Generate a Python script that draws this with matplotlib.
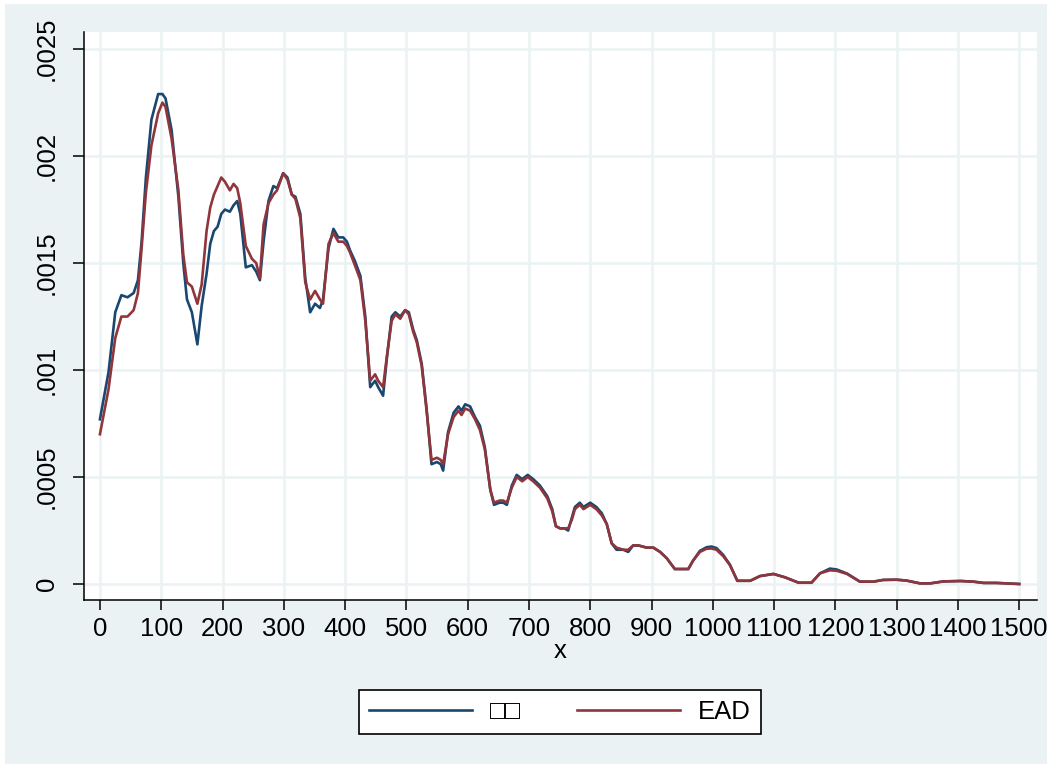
import matplotlib
matplotlib.use("Agg")
import matplotlib.pyplot as plt
from matplotlib.patches import Rectangle

plt.rcParams["font.family"] = ["Liberation Sans", "DejaVu Sans"]

# kernel density style curves
x = [0, 14, 25, 35, 45, 55, 62, 68, 75, 84, 95, 102, 107, 117, 128, 136, 142,
     150, 159, 166, 174, 180, 186, 192, 198, 204, 212, 218, 224, 229, 238, 248,
     255, 261, 267, 275, 283, 289, 299, 306, 313, 319, 327, 335, 343, 351, 359,
     364, 373, 381, 389, 397, 403, 408, 416, 425, 433, 441, 449, 454, 462, 468,
     476, 482, 490, 498, 504, 511, 517, 525, 533, 541, 550, 556, 560, 568, 577,
     585, 590, 596, 604, 612, 620, 628, 637, 643, 652, 658, 664, 672, 680, 689,
     698, 707, 718, 730, 738, 744, 751, 758, 764, 770, 775, 783, 789, 800, 810,
     819, 827, 835, 843, 854, 862, 870, 879, 892, 903, 914, 925, 938, 950, 960,
     968, 979, 990, 998, 1006, 1017, 1028, 1040, 1061, 1077, 1099, 1118, 1140,
     1161, 1175, 1191, 1202, 1219, 1240, 1262, 1278, 1300, 1316, 1338, 1355,
     1376, 1404, 1425, 1442, 1463, 1500]

original = [0.00077, 0.00099, 0.00127, 0.00135, 0.00134, 0.00136, 0.00142,
            0.00160, 0.00190, 0.00217, 0.00229, 0.00229, 0.00227, 0.00212,
            0.00181, 0.00150, 0.00133, 0.00127, 0.00112, 0.00130, 0.00145,
            0.00159, 0.00165, 0.00167, 0.00173, 0.00175, 0.00174, 0.00177,
            0.00179, 0.00173, 0.00148, 0.00149, 0.00146, 0.00142, 0.00160,
            0.00179, 0.00186, 0.00185, 0.00192, 0.00190, 0.00182, 0.00181,
            0.00173, 0.00143, 0.00127, 0.00131, 0.00129, 0.00133, 0.00157,
            0.00166, 0.00162, 0.00162, 0.00160, 0.00156, 0.00151, 0.00144,
            0.00125, 0.00092, 0.00095, 0.00092, 0.00088, 0.00105, 0.00125,
            0.00127, 0.00125, 0.00128, 0.00127, 0.00119, 0.00114, 0.00103,
            0.00082, 0.00056, 0.00057, 0.00056, 0.00053, 0.00071, 0.00080,
            0.00083, 0.00081, 0.00084, 0.00083, 0.00078, 0.00074, 0.00064,
            0.00044, 0.00037, 0.00038, 0.00038, 0.00037, 0.00046, 0.00051,
            0.00049, 0.00051, 0.00049, 0.00046, 0.00041, 0.00035, 0.00027,
            0.00026, 0.00026, 0.00025, 0.00031, 0.00036, 0.00038, 0.00036,
            0.00038, 0.00036, 0.00033, 0.00028, 0.00019, 0.00016, 0.00016,
            0.00015, 0.00018, 0.00018, 0.00017, 0.00017, 0.00015, 0.00012,
            0.00007, 0.00007, 0.00007, 0.00011, 0.000155, 0.000172, 0.000175,
            0.000168, 0.000136, 0.00009, 0.000015, 0.000015, 0.000037,
            0.000047, 0.000031, 0.000006, 0.000006, 0.00005, 0.000072,
            0.000068, 0.000049, 0.000011, 0.000011, 0.000019, 0.00002,
            0.000016, 0.000003, 0.000003, 0.000012, 0.000014, 0.000011,
            0.000005, 0.000005, 0.0]

ead = [0.00070, 0.00091, 0.00115, 0.00125, 0.00125, 0.00128, 0.00136,
       0.00157, 0.00183, 0.00205, 0.00220, 0.00225, 0.00223, 0.00208,
       0.00184, 0.00154, 0.00141, 0.00139, 0.00131, 0.00140, 0.00165,
       0.00176, 0.00182, 0.00186, 0.00190, 0.00188, 0.00184, 0.00187,
       0.00185, 0.00178, 0.00158, 0.00152, 0.00150, 0.00143, 0.00168,
       0.00178, 0.00182, 0.00184, 0.00192, 0.00189, 0.00182, 0.00180,
       0.00171, 0.00141, 0.00133, 0.00137, 0.00133, 0.00131, 0.00159,
       0.00164, 0.00160, 0.00160, 0.00158, 0.00155, 0.00149, 0.00142,
       0.00123, 0.00095, 0.00098, 0.00095, 0.00092, 0.00106, 0.00123,
       0.00126, 0.00124, 0.00128, 0.00126, 0.00118, 0.00113, 0.00102,
       0.00081, 0.00058, 0.00059, 0.00058, 0.00056, 0.00070, 0.00078,
       0.00081, 0.00079, 0.00082, 0.00081, 0.00077, 0.00072, 0.00063,
       0.00044, 0.00038, 0.00039, 0.00039, 0.00038, 0.00045, 0.00050,
       0.00048, 0.00050, 0.00048, 0.00045, 0.00040, 0.00034, 0.00027,
       0.00026, 0.00026, 0.00026, 0.00030, 0.00035, 0.00037, 0.00035,
       0.00037, 0.00035, 0.00032, 0.00028, 0.00019, 0.00017, 0.00016,
       0.00016, 0.00018, 0.00018, 0.00017, 0.00017, 0.00015, 0.00012,
       0.00007, 0.00007, 0.00007, 0.00011, 0.00015, 0.000165, 0.000166,
       0.00016, 0.00013, 0.000088, 0.000015, 0.000015, 0.000037,
       0.000047, 0.000031, 0.000006, 0.000006, 0.00005, 0.000064,
       0.000062, 0.000047, 0.000011, 0.000011, 0.000019, 0.00002,
       0.000016, 0.000003, 0.000003, 0.000012, 0.000014, 0.000011,
       0.000005, 0.000005, 0.0]

xticks = list(range(0, 1501, 100))
yticks = [0, 0.0005, 0.001, 0.0015, 0.002, 0.0025]
ytick_labels = ["0", ".0005", ".001", ".0015", ".002", ".0025"]
series_labels = ["□□", "EAD"]

BG = "#eaf2f3"
BLUE = "#1a476f"
RED = "#90353b"

fig = plt.figure(figsize=(10.52, 7.69), dpi=100, facecolor="white")
fig.patches.append(Rectangle((5 / 1052, 5 / 769), 1 - 10 / 1052, 1 - 9 / 769,
                             transform=fig.transFigure, facecolor=BG,
                             edgecolor="none", zorder=-10))

ax = fig.add_axes([84 / 1052, 169 / 769, 953 / 1052, 568 / 769])
ax.set_facecolor("white")

ax.plot(x, original, color=BLUE, lw=1.9, label=series_labels[0])
ax.plot(x, ead, color=RED, lw=1.9, label=series_labels[1])

ax.set_xlim(-26, 1529)
ax.set_ylim(-0.0000748, 0.00258)
ax.set_xticks(xticks)
ax.set_yticks(yticks)
ax.set_yticklabels(ytick_labels, rotation=90, va="center")
ax.grid(True, color=BG, lw=1.8)
ax.set_axisbelow(True)

for side in ["top", "right"]:
    ax.spines[side].set_visible(False)
for side in ["left", "bottom"]:
    ax.spines[side].set_color("black")
    ax.spines[side].set_linewidth(1.1)

ax.tick_params(axis="both", labelsize=18.5, width=1.1, color="black")
ax.tick_params(axis="y", length=8, pad=10)
ax.tick_params(axis="x", length=7, pad=5)
ax.set_xlabel("x", fontsize=18.5, labelpad=-1)

fig.legend(loc="center", bbox_to_anchor=(560 / 1052, 1 - 712 / 769),
           ncol=2, fontsize=18.5, frameon=True, fancybox=False,
           edgecolor="black", framealpha=1, handlelength=4.0,
           handletextpad=0.7, columnspacing=2.2, borderpad=0.4)
leg = fig.legends[0]
leg.get_frame().set_linewidth(1.2)

fig.savefig("out.png", dpi=100, facecolor=fig.get_facecolor())
